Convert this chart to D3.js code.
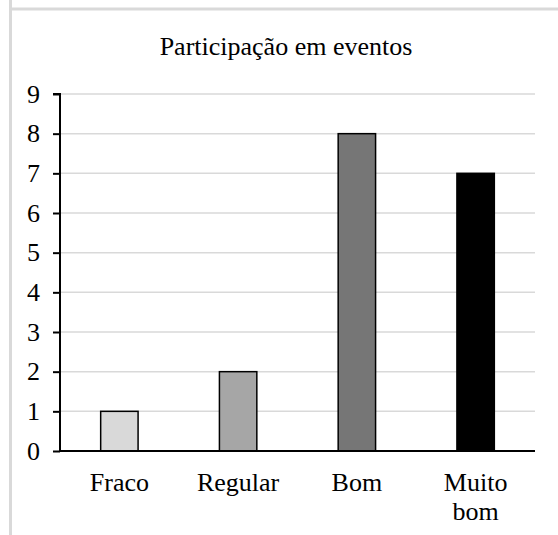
<!DOCTYPE html>
<html><head><meta charset="utf-8">
<script src="https://cdn.jsdelivr.net/npm/d3@7"></script>
<style>body{margin:0;background:#fff}svg{display:block}svg text{font-family:"Liberation Serif","Times New Roman",Times,serif}</style>
</head><body>
<script>
const categories = ["Fraco", "Regular", "Bom", "Muito bom"];
const values = [1, 2, 8, 7];
const colors = ["#d9d9d9", "#a6a6a6", "#767676", "#000000"];
const yTicks = [0,1,2,3,4,5,6,7,8,9];
const title = "Participação em eventos";

(function() {
const W = 558, H = 535;
const svg = d3.select("body").append("svg").attr("width", W).attr("height", H);
const fs = "26px";

// frame
svg.append("rect").attr("x", 9).attr("y", 7.5).attr("width", W-9).attr("height", 3).attr("fill", "#d9d9d9");
svg.append("rect").attr("x", 9).attr("y", 0).attr("width", 3).attr("height", H).attr("fill", "#d9d9d9");

const mLeft = 60, mRight = 535, mTop = 94, mBottom = 451;
const x = d3.scaleBand().domain(categories).range([mLeft, mRight]).paddingInner(0.685).paddingOuter(0.3425);
const y = d3.scaleLinear().domain([0, 9]).range([mBottom, mTop]);

svg.append("text").attr("x", 286).attr("y", 55).attr("text-anchor", "middle")
  .style("font-size", fs).attr("fill", "#000").text(title);

// gridlines
svg.append("g").selectAll("line").data(yTicks.filter(d => d > 0)).join("line")
  .attr("x1", mLeft).attr("x2", mRight).attr("y1", d => y(d)).attr("y2", d => y(d))
  .attr("stroke", "#d9d9d9").attr("stroke-width", 1.5);

// bars
svg.append("g").selectAll("rect").data(values).join("rect")
  .attr("x", (d,i) => x(categories[i])).attr("width", x.bandwidth())
  .attr("y", d => y(d)).attr("height", d => y(0) - y(d))
  .attr("fill", (d,i) => colors[i]).attr("stroke", "#000").attr("stroke-width", 1.5);

// y axis
const ya = svg.append("g").attr("transform", `translate(${mLeft},0)`)
  .call(d3.axisLeft(y).tickValues(yTicks).tickSize(7).tickPadding(13).tickFormat(d3.format("d")));
ya.attr("font-family", null).attr("font-size", null);
ya.select(".domain").attr("stroke", "#000").attr("stroke-width", 2).attr("d", `M-7,${mTop}H0V${mBottom}`);
ya.selectAll(".tick line").attr("stroke", "#000").attr("stroke-width", 2);
ya.selectAll(".tick text").style("font-size", fs).attr("fill", "#000");

// x axis line
svg.append("line").attr("x1", mLeft).attr("x2", mRight).attr("y1", mBottom).attr("y2", mBottom)
  .attr("stroke", "#000").attr("stroke-width", 2);

// x labels
const xl = svg.append("g").selectAll("text").data(categories).join("text")
  .attr("y", 491).attr("text-anchor", "middle")
  .style("font-size", fs).attr("fill", "#000");
xl.each(function(d) {
  const t = d3.select(this);
  const parts = d === "Muito bom" ? ["Muito", "bom"] : [d];
  parts.forEach((p, i) => t.append("tspan").attr("x", x(d) + x.bandwidth()/2).attr("dy", i ? 29 : 0).text(p));
});
})();
</script>
</body></html>
